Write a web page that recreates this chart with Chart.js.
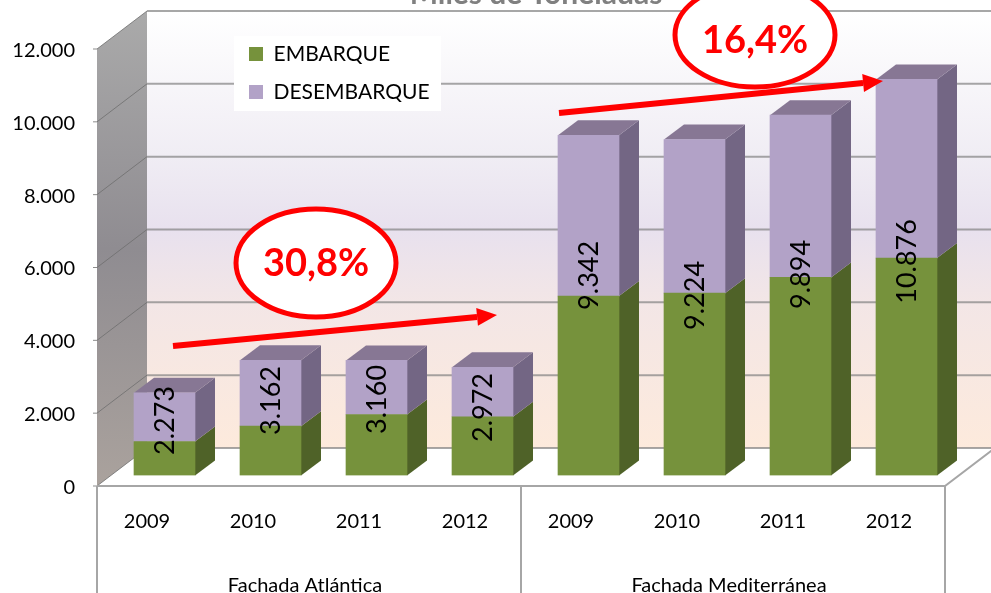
<!DOCTYPE html>
<html>
<head>
<meta charset="utf-8">
<title>Miles de Toneladas</title>
<script src="https://cdn.jsdelivr.net/npm/chart.js@4/dist/chart.umd.min.js"></script>
<style>
  html, body { margin: 0; padding: 0; background: #fff; overflow: hidden; }
  #wrap { width: 991px; height: 593px; }
  #puertosChart { filter: blur(0.4px); }
</style>
</head>
<body>
<div id="wrap"><canvas id="puertosChart"></canvas></div>
<script>
const years = ['2009','2010','2011','2012','2009','2010','2011','2012'];
const fachadas = ['Fachada Atlántica','Fachada Mediterránea'];
const embarque = [934, 1354, 1676, 1613, 4926, 5008, 5440, 5970];
const desembarque = [1339, 1808, 1484, 1359, 4416, 4216, 4454, 4906];
const totalLabels = ['2.273','3.162','3.160','2.972','9.342','9.224','9.894','10.876'];
// value on the y axis where each rotated label is centred
const labelAnchors = [1511, 2060, 2088, 1868, 5495, 4945, 5522, 5879];
const yTickLabels = ['0','2.000','4.000','6.000','8.000','10.000','12.000'];
const chartTitle = 'Miles de Toneladas';

const FONT = 'Lato, sans-serif';
const wall = { dx: 50, dy: -38 };     // depth of the chart box
const barShift = { dx: 14.5, dy: -10.5 }; // bars stand inside the box
const barDepth = { dx: 20, dy: -15 };

// the back wall, side wall and floor of the 3D box
const boxPlugin = {
    id: 'box',
    beforeDraw(chart) {
        const { ctx, scales: { x, y } } = chart;
        const W = chart.width;
        const backTop = y.getPixelForValue(12000) + wall.dy;
        const backBottom = y.getPixelForValue(0) + wall.dy;

        ctx.save();
        const back = ctx.createLinearGradient(0, backTop, 0, backBottom);
        back.addColorStop(0, '#ffffff');
        back.addColorStop(0.33, '#f0edf4');
        back.addColorStop(0.5, '#e8e1ee');
        back.addColorStop(0.67, '#f3e6e6');
        back.addColorStop(1, '#fdeadc');
        ctx.fillStyle = back;
        ctx.fillRect(x.left + wall.dx, backTop, W, backBottom - backTop);

        const side = ctx.createLinearGradient(0, backTop, 0, y.bottom);
        side.addColorStop(0, '#aaaaaa');
        side.addColorStop(0.5, '#8f8c91');
        side.addColorStop(1, '#aaa29d');
        ctx.fillStyle = side;
        ctx.beginPath();
        ctx.moveTo(x.left, y.top);
        ctx.lineTo(x.left + wall.dx, backTop);
        ctx.lineTo(x.left + wall.dx, backBottom);
        ctx.lineTo(x.left, y.bottom);
        ctx.closePath();
        ctx.fill();

        // grid lines: back wall and side wall
        yTickLabels.forEach((t, i) => {
            const py = y.getPixelForValue(i * 2000);
            ctx.strokeStyle = 'rgba(130,130,130,0.7)';
            ctx.lineWidth = 2;
            ctx.beginPath();
            ctx.moveTo(x.left + wall.dx, py + wall.dy);
            ctx.lineTo(W, py + wall.dy);
            ctx.stroke();
            ctx.lineWidth = 1;
            ctx.strokeStyle = 'rgba(110,110,110,0.8)';
            ctx.beginPath();
            ctx.moveTo(x.left - 4, py);
            ctx.lineTo(x.left, py);
            ctx.lineTo(x.left + wall.dx, py + wall.dy);
            ctx.stroke();
        });

        // floor edges and the group separators under the axis
        ctx.strokeStyle = '#a6a6a6';
        ctx.lineWidth = 2;
        ctx.beginPath();
        ctx.moveTo(x.left, y.bottom);
        ctx.lineTo(x.right, y.bottom);
        ctx.lineTo(x.right + wall.dx, y.bottom + wall.dy);
        [x.left, (x.left + x.right) / 2, x.right].forEach(px => {
            ctx.moveTo(px, y.bottom);
            ctx.lineTo(px, chart.height);
        });
        ctx.stroke();

        // title runs off the top of the picture
        ctx.fillStyle = '#808080';
        ctx.font = 'bold 30px ' + FONT;
        ctx.textAlign = 'center';
        ctx.textBaseline = 'alphabetic';
        ctx.fillText(chartTitle, 536, 4);

        // legend backing
        ctx.fillStyle = '#ffffff';
        ctx.fillRect(234, 36, 207, 75);
        ctx.restore();
    },
    afterLayout(chart) {
        chart.legend.left = 232;
        chart.legend.top = 26.5;
    }
};

const sideColors = ['#4f6228', '#736684'];
const topColor = '#877794';

// side and top faces of the bars, then the same offset for the fronts
const barsPlugin = {
    id: 'bars3d',
    beforeDatasetsDraw(chart) {
        const { ctx } = chart;
        ctx.save();
        ctx.translate(barShift.dx, barShift.dy);
        chart.data.datasets.forEach((ds, d) => {
            chart.getDatasetMeta(d).data.forEach(bar => {
                const p = bar.getProps(['x', 'y', 'base', 'width']);
                const r = p.x + p.width / 2;
                const l = p.x - p.width / 2;
                ctx.fillStyle = sideColors[d];
                ctx.beginPath();
                ctx.moveTo(r, p.base);
                ctx.lineTo(r + barDepth.dx, p.base + barDepth.dy);
                ctx.lineTo(r + barDepth.dx, p.y + barDepth.dy);
                ctx.lineTo(r, p.y);
                ctx.closePath();
                ctx.fill();
                if (d === chart.data.datasets.length - 1) {
                    ctx.fillStyle = topColor;
                    ctx.beginPath();
                    ctx.moveTo(l, p.y);
                    ctx.lineTo(l + barDepth.dx, p.y + barDepth.dy);
                    ctx.lineTo(r + barDepth.dx, p.y + barDepth.dy);
                    ctx.lineTo(r, p.y);
                    ctx.closePath();
                    ctx.fill();
                }
            });
        });
    },
    afterDatasetsDraw(chart) {
        const { ctx, scales: { y } } = chart;
        // rotated totals, still inside the translate
        const meta = chart.getDatasetMeta(0);
        ctx.fillStyle = '#000000';
        ctx.font = '27px ' + FONT;
        ctx.textAlign = 'center';
        ctx.textBaseline = 'middle';
        totalLabels.forEach((txt, i) => {
            ctx.save();
            ctx.translate(meta.data[i].x, y.getPixelForValue(labelAnchors[i]));
            ctx.rotate(-Math.PI / 2);
            ctx.fillText(txt, 0, 1);
            ctx.restore();
        });
        ctx.restore();
    }
};

function growthArrow(ctx, x0, y0, x1, y1) {
    const a = Math.atan2(y1 - y0, x1 - x0);
    const headLen = 20, headW = 9;
    const bx = x1 - headLen * Math.cos(a), by = y1 - headLen * Math.sin(a);
    ctx.strokeStyle = '#ff0000';
    ctx.lineWidth = 6;
    ctx.beginPath();
    ctx.moveTo(x0, y0);
    ctx.lineTo(bx, by);
    ctx.stroke();
    ctx.fillStyle = '#ff0000';
    ctx.beginPath();
    ctx.moveTo(x1, y1);
    ctx.lineTo(bx - headW * Math.sin(a), by + headW * Math.cos(a));
    ctx.lineTo(bx + headW * Math.sin(a), by - headW * Math.cos(a));
    ctx.closePath();
    ctx.fill();
}

function growthBubble(ctx, cx, cy, rx, ry, txt, ty) {
    ctx.fillStyle = '#ffffff';
    ctx.strokeStyle = '#ff0000';
    ctx.lineWidth = 5;
    ctx.beginPath();
    ctx.ellipse(cx, cy, rx, ry, 0, 0, Math.PI * 2);
    ctx.fill();
    ctx.stroke();
    ctx.fillStyle = '#ff0000';
    ctx.font = 'bold 38px ' + FONT;
    ctx.textAlign = 'center';
    ctx.textBaseline = 'middle';
    ctx.fillText(txt, cx, ty);
}

// the two hand-placed growth call-outs
const calloutPlugin = {
    id: 'callouts',
    afterDraw(chart) {
        const { ctx } = chart;
        ctx.save();
        growthBubble(ctx, 316, 263, 80, 54, '30,8%', 264);
        growthArrow(ctx, 173, 346, 497, 315);
        growthBubble(ctx, 755, 35, 80, 52, '16,4%', 41);
        growthArrow(ctx, 559, 113, 883, 81);
        ctx.restore();
    }
};

new Chart(document.getElementById('puertosChart'), {
    type: 'bar',
    data: {
        labels: years,
        datasets: [
            { label: 'EMBARQUE', data: embarque, backgroundColor: '#76923c', barThickness: 61 },
            { label: 'DESEMBARQUE', data: desembarque, backgroundColor: '#b2a2c7', barThickness: 61 }
        ]
    },
    options: {
        responsive: true,
        maintainAspectRatio: false,
        animation: false,
        events: [],
        layout: { padding: { top: 49, right: 46, left: 0, bottom: 0 } },
        plugins: {
            legend: {
                position: 'chartArea',
                align: 'start',
                labels: {
                    boxWidth: 14,
                    boxHeight: 14,
                    padding: 17,
                    color: '#000000',
                    font: { family: FONT, size: 21 }
                }
            },
            title: { display: false },
            tooltip: { enabled: false }
        },
        scales: {
            x: {
                stacked: true,
                grid: { display: false, drawTicks: false },
                border: { display: false },
                ticks: {
                    padding: 24,
                    labelOffset: -3,
                    autoSkip: false,
                    maxRotation: 0,
                    color: '#000000',
                    font: { family: FONT, size: 20 }
                },
                afterFit(s) { s.height = 47; }
            },
            x2: {
                type: 'category',
                position: 'bottom',
                weight: 1,
                labels: fachadas,
                offset: true,
                grid: { display: false, drawTicks: false },
                border: { display: false },
                ticks: {
                    padding: 41,
                    labelOffset: -4,
                    maxRotation: 0,
                    color: '#000000',
                    font: { family: FONT, size: 20 }
                },
                afterFit(s) { s.height = 60; }
            },
            y: {
                stacked: true,
                min: 0,
                max: 12000,
                grid: { display: false, drawTicks: false },
                border: { display: false },
                ticks: {
                    stepSize: 2000,
                    padding: 22,
                    labelOffset: 1.5,
                    color: '#000000',
                    font: { family: FONT, size: 20 },
                    callback: (v, i) => yTickLabels[i]
                },
                afterFit(s) { s.width = 97; }
            }
        }
    },
    plugins: [boxPlugin, barsPlugin, calloutPlugin]
});
</script>
</body>
</html>
